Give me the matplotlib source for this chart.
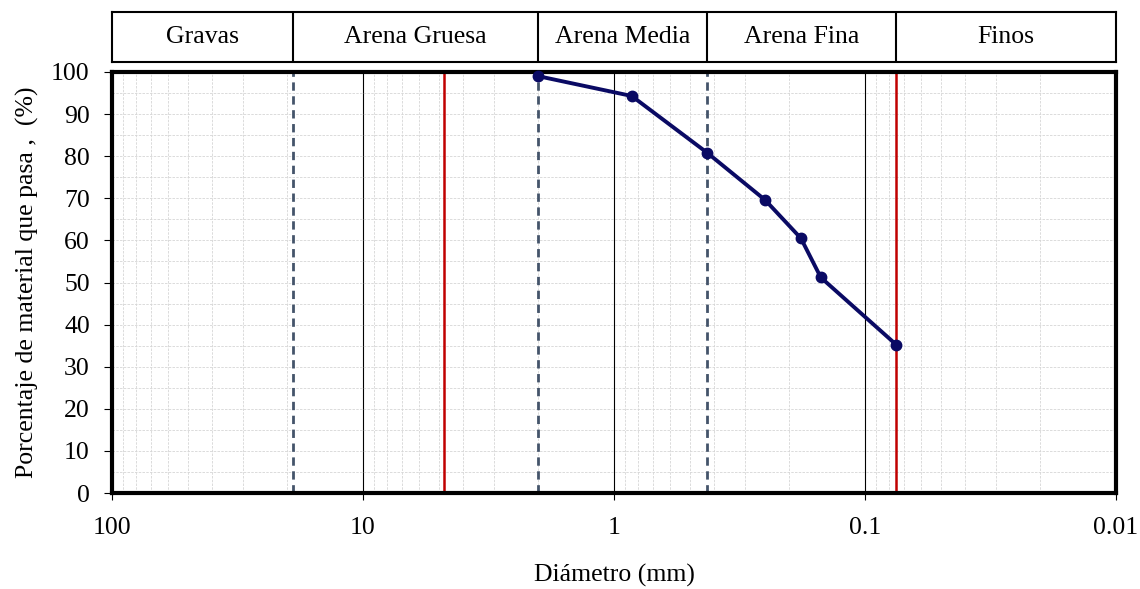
import numpy as np
import matplotlib.pyplot as plt
from matplotlib.ticker import FixedLocator, NullFormatter

plt.rcParams['font.family'] = ['Liberation Serif', 'DejaVu Serif']

# tamaño de particula (mm) y porcentaje que pasa
diametro = [2.0, 0.85, 0.425, 0.25, 0.18, 0.15, 0.075]
pasa = [99.0, 94.3, 80.8, 69.6, 60.5, 51.2, 35.2]

# limites de la clasificacion
limites_dash = [19.0, 2.0, 0.425]
limites_red = [4.75, 0.075]
zonas = ['Gravas', 'Arena Gruesa', 'Arena Media', 'Arena Fina', 'Finos']
bordes = [100, 19.0, 2.0, 0.425, 0.075, 0.01]

FS = 18.5
W, H = 1140, 589
fig = plt.figure(figsize=(W / 100, H / 100), dpi=100)
ax = fig.add_axes([112 / W, 1 - 493 / H, (1116 - 112) / W, (493 - 72) / H])

ax.set_xscale('log')
ax.set_xlim(100, 0.01)
ax.set_ylim(0, 100)

# rejilla
minors = [m * 10.0 ** e for e in range(-2, 2) for m in range(2, 10)]
ax.xaxis.set_minor_locator(FixedLocator(minors))
ax.xaxis.set_minor_formatter(NullFormatter())
ax.xaxis.set_major_locator(FixedLocator([100, 10, 1, 0.1, 0.01]))
ax.set_xticklabels(['100', '10', '1', '0.1', '0.01'])
ax.set_yticks(range(0, 101, 10))
ax.set_yticks(range(5, 100, 10), minor=True)
ax.grid(which='minor', color='#d6d6d6', linestyle='--', linewidth=0.6, dashes=(3, 1.5))
ax.grid(which='major', axis='y', color='#d6d6d6', linestyle='--', linewidth=0.6, dashes=(3, 1.5))
for d in [10, 1, 0.1]:
    ax.axvline(d, color='black', linewidth=0.8, zorder=1)

for d in limites_dash:
    ax.axvline(d, color='#44546A', linestyle='--', linewidth=2, dashes=(3, 2), zorder=2)
for d in limites_red:
    ax.axvline(d, color='#C00000', linewidth=1.8, zorder=2)

ax.plot(diametro, pasa, color='#0A0A64', linewidth=2.8, marker='o', markersize=7.5, zorder=5, clip_on=False)

for s in ax.spines.values():
    s.set_linewidth(3)
ax.tick_params(which='minor', length=0)
ax.tick_params(axis='x', which='major', direction='out', length=5, width=0.8, labelsize=FS, pad=12)
ax.tick_params(axis='y', which='major', direction='out', length=6, width=0.8, labelsize=FS, pad=10)
ax.set_ylabel('Porcentaje de material que pasa ,  (%)', fontsize=FS, labelpad=9)
ax.set_xlabel('Diámetro (mm)', fontsize=FS, labelpad=18.5)

# cabecera con las zonas
hx = fig.add_axes([112 / W, 1 - 62 / H, (1116 - 112) / W, 50 / H])
hx.set_xscale('log')
hx.set_xlim(100, 0.01)
hx.set_ylim(0, 1)
hx.set_xticks([])
hx.set_yticks([])
hx.minorticks_off()
for s in hx.spines.values():
    s.set_linewidth(1.5)
for b in bordes[1:-1]:
    hx.axvline(b, color='black', linewidth=1.5)
for i, z in enumerate(zonas):
    xc = np.sqrt(bordes[i] * bordes[i + 1])
    hx.text(xc, 0.5, z, ha='center', va='center', fontsize=FS)

fig.savefig('out.png', dpi=100)
